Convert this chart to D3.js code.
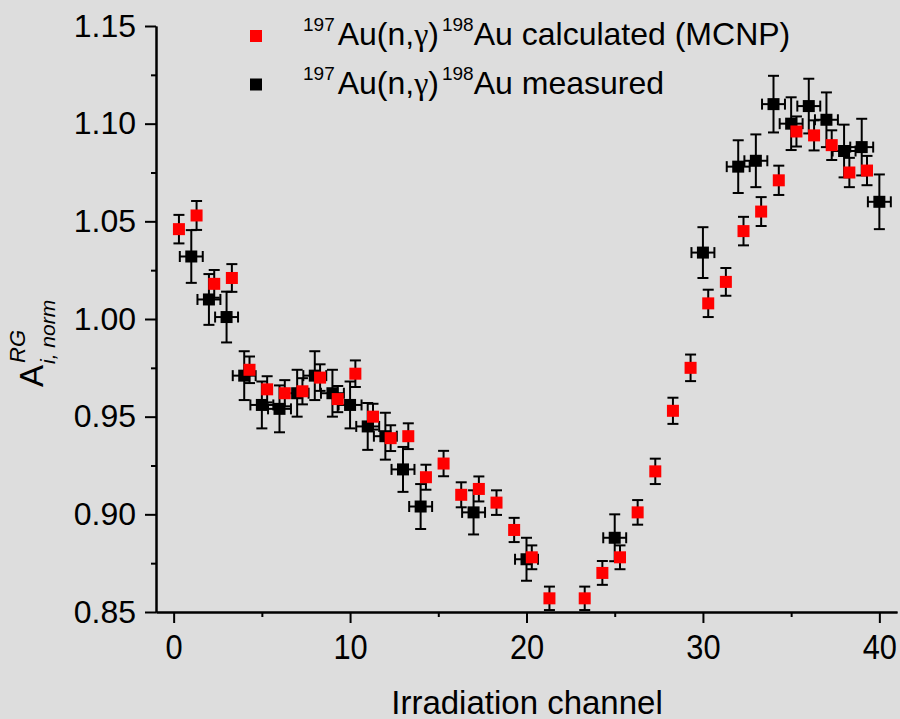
<!DOCTYPE html>
<html>
<head>
<meta charset="utf-8">
<script src="https://cdn.jsdelivr.net/npm/d3@7"></script>
<style>
  body { margin: 0; background: #dddddd; }
  svg { display: block; font-family: "Liberation Sans", Arial, sans-serif; }
</style>
</head>
<body>
<svg id="chart" width="900" height="719"></svg>
<script>
// 197Au(n,g)198Au calculated (MCNP)
const calcChannel = [0.3, 1.3, 2.3, 3.3, 4.3, 5.3, 6.3, 7.3, 8.3, 9.3, 10.3, 11.3, 12.3, 13.3, 14.3, 15.3, 16.3, 17.3, 18.3, 19.3, 20.3, 21.3,
  23.3, 24.3, 25.3, 26.3, 27.3, 28.3, 29.3, 30.3, 31.3, 32.3, 33.3, 34.3, 35.3, 36.3, 37.3, 38.3, 39.3];
const calcValue = [1.046, 1.053, 1.018, 1.021, 0.974, 0.964, 0.962, 0.963, 0.970, 0.959, 0.972, 0.950, 0.939, 0.940, 0.919, 0.926, 0.910, 0.913, 0.906, 0.892, 0.878, 0.857,
  0.857, 0.870, 0.878, 0.901, 0.922, 0.953, 0.975, 1.008, 1.019, 1.045, 1.055, 1.071, 1.096, 1.094, 1.089, 1.075, 1.076];
const calcErr = [0.0073, 0.0074, 0.0071, 0.0071, 0.0068, 0.0067, 0.0067, 0.0067, 0.0068, 0.0067, 0.0068, 0.0066, 0.0066, 0.0066, 0.0064, 0.0065, 0.0064, 0.0064, 0.0063, 0.0062, 0.0061, 0.006,
  0.006, 0.0061, 0.0061, 0.0063, 0.0065, 0.0067, 0.0068, 0.007, 0.0071, 0.0073, 0.0074, 0.0075, 0.0077, 0.0077, 0.0076, 0.0075, 0.0075];

// 197Au(n,g)198Au measured
const measChannel = [1, 2, 3, 4, 5, 6, 7, 8, 9, 10, 11, 12, 13, 14, 17, 20, 25, 30, 32, 33, 34, 35, 36, 37, 38, 39, 40];
const measValue = [1.032, 1.010, 1.001, 0.971, 0.956, 0.954, 0.962, 0.971, 0.962, 0.956, 0.945, 0.940, 0.923, 0.904, 0.901, 0.877, 0.888, 1.034, 1.078, 1.081, 1.110, 1.100, 1.109, 1.102, 1.086, 1.088, 1.060];
const measErr = [0.0135, 0.013, 0.013, 0.0125, 0.012, 0.012, 0.012, 0.0125, 0.012, 0.012, 0.012, 0.012, 0.0115, 0.0115, 0.0113, 0.011, 0.012, 0.013, 0.0135, 0.0135, 0.0145, 0.0135, 0.014, 0.014, 0.0135, 0.0145, 0.014];
const measChannelErr = [0.65, 0.65, 0.65, 0.65, 0.65, 0.65, 0.65, 0.65, 0.65, 0.65, 0.65, 0.65, 0.65, 0.65, 0.65, 0.65, 0.65, 0.65, 0.65, 0.65, 0.65, 0.65, 0.65, 0.65, 0.65, 0.65, 0.65];

const xTicks = [0, 10, 20, 30, 40];
const xMinorTicks = [5, 15, 25, 35];
const yTicks = [0.85, 0.90, 0.95, 1.00, 1.05, 1.10, 1.15];
const yMinorTicks = [0.875, 0.925, 0.975, 1.025, 1.075, 1.125];

const svg = d3.select('#chart'),
  margin = { top: 26, right: 3, bottom: 107, left: 156 },
  width = +svg.attr('width') - margin.left - margin.right,
  height = +svg.attr('height') - margin.top - margin.bottom,
  g = svg.append('g').attr('transform', `translate(${margin.left},${margin.top})`);

const x = d3.scaleLinear().domain([-1, 41]).range([0, width]);
const y = d3.scaleLinear().domain([0.85, 1.15]).range([height, 0]);

// axes
const xAxis = g.append('g')
  .attr('transform', `translate(0,${height})`)
  .call(d3.axisBottom(x).tickValues(xTicks).tickSize(11).tickSizeOuter(0).tickPadding(11).tickFormat(d3.format('d')));
xAxis.selectAll('text').attr('font-size', 35).attr('transform', 'scale(0.88,1)');
g.append('g')
  .attr('transform', `translate(0,${height})`)
  .call(d3.axisBottom(x).tickValues(xMinorTicks).tickSize(5).tickSizeOuter(0).tickFormat(''));

const yAxis = g.append('g')
  .call(d3.axisLeft(y).tickValues(yTicks).tickSize(11).tickSizeOuter(0).tickPadding(9).tickFormat(d3.format('.2f')));
yAxis.selectAll('text').attr('font-size', 32);
g.append('g')
  .call(d3.axisLeft(y).tickValues(yMinorTicks).tickSize(5).tickSizeOuter(0).tickFormat(''));

g.selectAll('.domain').attr('stroke', '#000').attr('stroke-width', 2);
g.selectAll('.tick line').attr('stroke', '#000').attr('stroke-width', 2);
g.selectAll('.tick text').attr('fill', '#000').attr('font-family', '"Liberation Sans", Arial, sans-serif');

// error bars + squares
const cap = 5.5, half = 6;

function drawSeries(cls, xs, vs, es, hs, color) {
  const pts = xs.map((c, i) => ({ c: c, v: vs[i], e: es[i], h: hs ? hs[i] : 0 }));
  const eb = g.append('g').attr('class', cls + 'Err')
    .attr('stroke', '#000').attr('stroke-width', 2).attr('fill', 'none');
  pts.forEach(p => {
    const cx = x(p.c), cy = y(p.v), top = y(p.v + p.e), bot = y(p.v - p.e);
    eb.append('line').attr('x1', cx).attr('x2', cx).attr('y1', top).attr('y2', bot);
    eb.append('line').attr('x1', cx - cap).attr('x2', cx + cap).attr('y1', top).attr('y2', top);
    eb.append('line').attr('x1', cx - cap).attr('x2', cx + cap).attr('y1', bot).attr('y2', bot);
    if (p.h) {
      const l = x(p.c - p.h), r = x(p.c + p.h);
      eb.append('line').attr('x1', l).attr('x2', r).attr('y1', cy).attr('y2', cy);
      eb.append('line').attr('x1', l).attr('x2', l).attr('y1', cy - cap).attr('y2', cy + cap);
      eb.append('line').attr('x1', r).attr('x2', r).attr('y1', cy - cap).attr('y2', cy + cap);
    }
  });
  g.selectAll('.' + cls)
    .data(pts)
    .enter()
    .append('rect')
    .attr('class', cls)
    .attr('x', d => x(d.c) - half)
    .attr('y', d => y(d.v) - half)
    .attr('width', half * 2)
    .attr('height', half * 2)
    .attr('fill', color);
}

drawSeries('meas', measChannel, measValue, measErr, measChannelErr, '#000');
drawSeries('calc', calcChannel, calcValue, calcErr, null, '#ff0000');

// legend
const legend = [
  { color: '#ff0000', rest: 'Au calculated (MCNP)' },
  { color: '#000', rest: 'Au measured' }
];
legend.forEach((l, i) => {
  const base = 45 + i * 48.5;
  svg.append('rect').attr('x', 250).attr('y', base - 15).attr('width', 12).attr('height', 12).attr('fill', l.color);
  const t = svg.append('text').attr('x', 303).attr('y', base).attr('font-size', 32).attr('fill', '#000');
  t.append('tspan').attr('font-size', 19).attr('dy', -14).text('197');
  t.append('tspan').attr('dy', 14).attr('dx', 3).text('Au(n,');
  t.append('tspan').attr('font-family', '"Liberation Serif", "Times New Roman", serif').text('γ');
  t.append('tspan').text(')');
  t.append('tspan').attr('font-size', 19).attr('dy', -14).attr('dx', 3).text('198');
  t.append('tspan').attr('dy', 14).text(l.rest);
});

// axis titles
svg.append('text')
  .attr('x', 527).attr('y', 714)
  .attr('text-anchor', 'middle')
  .attr('font-size', 33)
  .attr('fill', '#000')
  .text('Irradiation channel');

const yt = svg.append('text')
  .attr('transform', 'translate(43,387) rotate(-90)')
  .attr('fill', '#000');
yt.append('tspan').attr('x', 0).attr('y', 0).attr('font-size', 33).text('A');
yt.append('tspan').attr('x', 24).attr('y', -18).attr('font-size', 22).attr('font-style', 'italic').text('RG');
yt.append('tspan').attr('x', 23).attr('y', 12).attr('font-size', 21).attr('font-style', 'italic').text('i, norm');
</script>
</body>
</html>
